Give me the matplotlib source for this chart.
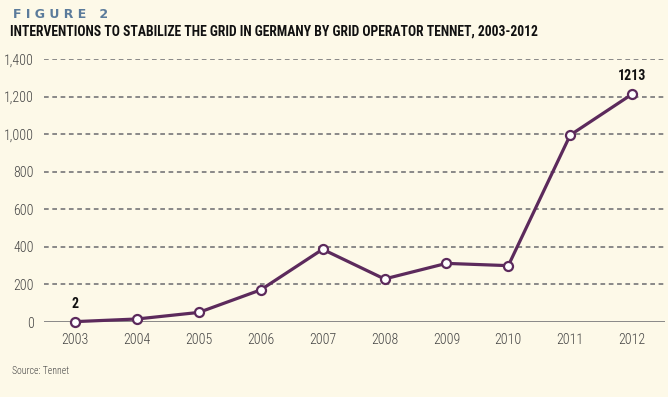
import matplotlib
matplotlib.use("Agg")
import matplotlib.pyplot as plt
from matplotlib import font_manager
from matplotlib.font_manager import FontProperties

years = [2003, 2004, 2005, 2006, 2007, 2008, 2009, 2010, 2011, 2012]
values = [2, 16, 51, 171, 387, 229, 312, 300, 995, 1213]
yticks = [0, 200, 400, 600, 800, 1000, 1200, 1400]
ytick_labels = ["0", "200", "400", "600", "800", "1,000", "1,200", "1,400"]
annotated = {2003: "2", 2012: "1213"}
title = "INTERVENTIONS TO STABILIZE THE GRID IN GERMANY BY GRID OPERATOR TENNET, 2003-2012"

# pick a condensed font if one is installed
cands = []
for f in font_manager.fontManager.ttflist:
    if f.stretch in ("condensed", "semi-condensed", "extra-condensed") or \
       "Narrow" in f.name or "Condensed" in f.name:
        cands.append((f.name, f.stretch))
pref = ["Roboto Condensed", "Liberation Sans Narrow", "DejaVu Sans", "Noto Sans",
        "Open Sans", "Roboto", "Lato", "Inter"]
chosen = None
for p in pref:
    for n, s in cands:
        if n == p:
            chosen = (n, s)
            break
    if chosen:
        break
if chosen is None and cands:
    chosen = cands[0]
if chosen is None:
    chosen = ("Liberation Sans", "normal")
cname, cstretch = chosen


def fp(size, weight="normal"):
    return FontProperties(family=[cname, "DejaVu Sans"], stretch=cstretch,
                          size=size, weight=weight)


bg = "#fdf9e8"
purple = "#5c2a5c"
grey = "#808080"

fig = plt.figure(figsize=(6.68, 3.97), dpi=100, facecolor=bg)
ax = fig.add_axes([44/668, 1 - 322/397, 621/668, (322-59)/397])
ax.set_facecolor(bg)

ax.set_xlim(2003 - 31/61.9, 2003 + 590/61.9)
ax.set_ylim(0, 1400)

for y in yticks[1:]:
    ax.axhline(y, color=grey, lw=1.3, ls=(0, (2.6, 2.0)), zorder=1)
ax.axhline(0, color=grey, lw=1.3, zorder=1)

ax.plot(years, values, color=purple, lw=2.3, marker="o", ms=6.5,
        mfc="white", mec=purple, mew=1.6, zorder=3, clip_on=False)

for yr, txt in annotated.items():
    v = values[years.index(yr)]
    ax.annotate(txt, (yr, v), xytext=(0, 8), textcoords="offset points",
                ha="center", va="bottom", fontproperties=fp(10, "bold"),
                color="#111111")

for s in ax.spines.values():
    s.set_visible(False)
ax.set_yticks(yticks)
ax.set_yticklabels(ytick_labels)
ax.set_xticks(years)
ax.set_xticklabels([str(y) for y in years])
ax.tick_params(length=0, colors="#444444")
ax.tick_params(axis="x", pad=8)
ax.tick_params(axis="y", pad=7.5)
for lab in ax.get_xticklabels() + ax.get_yticklabels():
    lab.set_fontproperties(fp(10, "light"))

fig.text(13/668, 1 - 15/397, "F I G U R E   2", fontsize=9, fontweight="bold",
         color="#5b7b9b", family="DejaVu Sans", va="center", ha="left")
t = fig.text(10/668, 1 - 32/397, title, fontproperties=fp(10.5, "bold"),
             color="#111111", va="center", ha="left")
fig.text(12/668, 1 - 371/397, "Source: Tennet", fontproperties=fp(7, "light"),
         color="#444444", va="center", ha="left")

# fit title width to reference (~531 px)
fig.canvas.draw()
r = fig.canvas.get_renderer()
w = t.get_window_extent(r).width
t.set_fontsize(10.5 * 531 / w)

fig.savefig("out.png", dpi=100, facecolor=bg)
